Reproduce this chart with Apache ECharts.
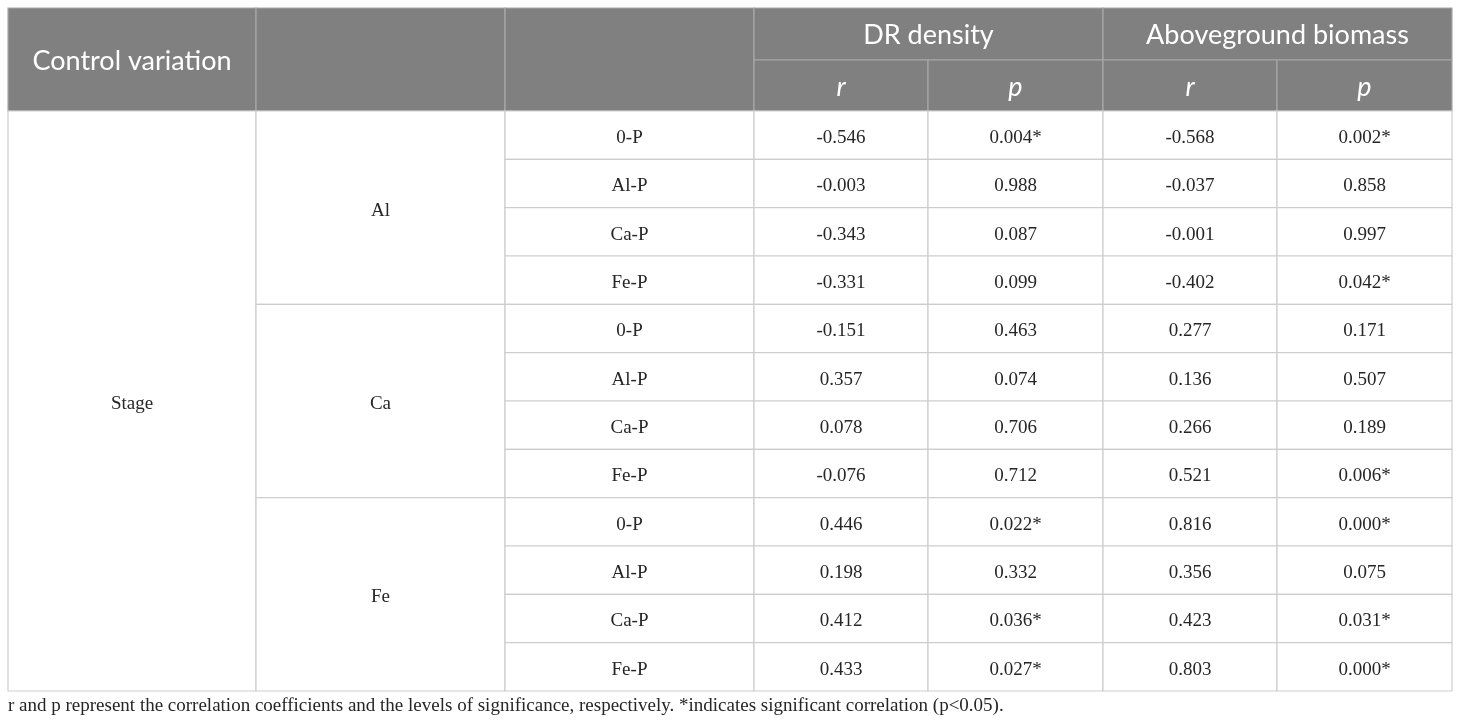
<!DOCTYPE html>
<html lang="en">
<head>
  <meta charset="UTF-8">
  <title>Partial correlation table</title>
  <script src="https://cdn.jsdelivr.net/npm/echarts@6/dist/echarts.min.js"></script>
  <style>
    html, body { margin: 0; padding: 0; background: #fff; }
    #table { width: 1460px; height: 728px; }
  </style>
</head>
<body>
<div id="table"></div>
<script>
  // table content
  var controlVar = 'Stage';
  var groups = ['Al', 'Ca', 'Fe'];
  var forms = ['0-P', 'Al-P', 'Ca-P', 'Fe-P'];
  var drR = ['-0.546', '-0.003', '-0.343', '-0.331', '-0.151', '0.357', '0.078', '-0.076', '0.446', '0.198', '0.412', '0.433'];
  var drP = ['0.004*', '0.988', '0.087', '0.099', '0.463', '0.074', '0.706', '0.712', '0.022*', '0.332', '0.036*', '0.027*'];
  var agbR = ['-0.568', '-0.037', '-0.001', '-0.402', '0.277', '0.136', '0.266', '0.521', '0.816', '0.356', '0.423', '0.803'];
  var agbP = ['0.002*', '0.858', '0.997', '0.042*', '0.171', '0.507', '0.189', '0.006*', '0.000*', '0.075', '0.031*', '0.000*'];
  var headTop = ['Control variation', '', '', 'DR density', 'Aboveground biomass'];
  var headSub = ['r', 'p', 'r', 'p'];
  var footnote = 'r and p represent the correlation coefficients and the levels of significance, respectively. *indicates significant correlation (p<0.05).';

  // layout (axis units = pixels inside the grid)
  var colEdges = [0, 248, 497, 746, 920, 1095, 1269, 1444];
  var headH = [52, 51];
  var bodyH = (683 - 103) / 12;
  function rowEdge(r) {
    if (r <= 0) return 0;
    if (r === 1) return headH[0];
    return headH[0] + headH[1] + (r - 2) * bodyH;
  }

  // build cells: [c0, c1, r0, r1, text, kind]
  var cells = [];
  cells.push([0, 1, 0, 2, headTop[0], 'head']);
  cells.push([1, 2, 0, 2, headTop[1], 'head']);
  cells.push([2, 3, 0, 2, headTop[2], 'head']);
  cells.push([3, 5, 0, 1, headTop[3], 'head']);
  cells.push([5, 7, 0, 1, headTop[4], 'head']);
  headSub.forEach(function (s, i) {
    cells.push([3 + i, 4 + i, 1, 2, s, 'headItalic']);
  });
  cells.push([0, 1, 2, 14, controlVar, 'body']);
  groups.forEach(function (g, gi) {
    cells.push([1, 2, 2 + gi * 4, 6 + gi * 4, g, 'body']);
  });
  for (var i = 0; i < 12; i++) {
    var r = 2 + i;
    cells.push([2, 3, r, r + 1, forms[i % 4], 'body']);
    cells.push([3, 4, r, r + 1, drR[i], 'body']);
    cells.push([4, 5, r, r + 1, drP[i], 'body']);
    cells.push([5, 6, r, r + 1, agbR[i], 'body']);
    cells.push([6, 7, r, r + 1, agbP[i], 'body']);
  }

  var chart = echarts.init(document.getElementById('table'));
  chart.setOption({
    backgroundColor: '#ffffff',
    animation: false,
    grid: { left: 8, top: 8, width: 1444, height: 683 },
    xAxis: { type: 'value', min: 0, max: 1444, show: false },
    yAxis: { type: 'value', min: 0, max: 683, inverse: true, show: false },
    graphic: [{
      type: 'text',
      left: 8,
      top: 697,
      style: {
        text: footnote,
        font: '19px "Liberation Serif"',
        fill: '#262626'
      }
    }],
    series: [{
      type: 'custom',
      coordinateSystem: 'cartesian2d',
      data: cells.map(function (c) {
        return [colEdges[c[0]], colEdges[c[1]], rowEdge(c[2]), rowEdge(c[3])];
      }),
      renderItem: function (params, api) {
        var c = cells[params.dataIndex];
        var p0 = api.coord([api.value(0), api.value(2)]);
        var p1 = api.coord([api.value(1), api.value(3)]);
        var isHead = c[5] !== 'body';
        var font = isHead
          ? (c[5] === 'headItalic' ? 'italic 27px Lato' : '27px Lato')
          : '19px "Liberation Serif"';
        return {
          type: 'group',
          children: [{
            type: 'rect',
            shape: { x: p0[0], y: p0[1], width: p1[0] - p0[0], height: p1[1] - p0[1] },
            style: {
              fill: isHead ? '#808080' : '#ffffff',
              stroke: isHead ? '#a8a8a8' : '#cdcdcd',
              lineWidth: 1.2
            }
          }, {
            type: 'text',
            x: (p0[0] + p1[0]) / 2,
            y: (p0[1] + p1[1]) / 2 + (isHead ? 1.5 : 3),
            style: {
              text: c[4],
              font: font,
              fill: isHead ? '#ffffff' : '#262626',
              align: 'center',
              verticalAlign: 'middle'
            }
          }]
        };
      }
    }]
  });
</script>
</body>
</html>
